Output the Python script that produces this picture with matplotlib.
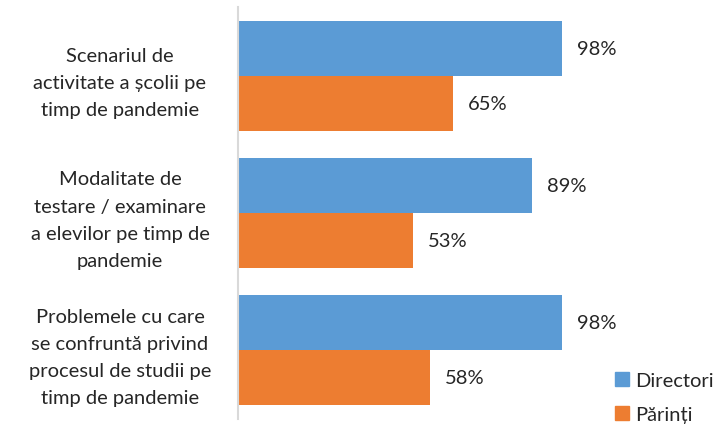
import numpy as np
import matplotlib.pyplot as plt
from matplotlib.patches import Patch

plt.rcParams['font.family'] = ['Lato', 'DejaVu Sans']

categorii = ['Scenariul de\nactivitate a școlii pe\ntimp de pandemie',
             'Modalitate de\ntestare / examinare\na elevilor pe timp de\npandemie',
             'Problemele cu care\nse confruntă privind\nprocesul de studii pe\ntimp de pandemie']
directori = [98, 89, 98]
parinti = [65, 53, 58]
serii = ['Directori', 'Părinți']
culori = ['#5B9BD5', '#ED7D31']

fs = 14.5

fig = plt.figure(figsize=(7.21, 4.27), dpi=100)
ax = fig.add_axes([238 / 721, 1 - 420 / 427, 397 / 721, 412 / 427])

y = np.arange(len(categorii))
h = 0.4
ax.barh(y - h / 2, directori, height=h, color=culori[0])
ax.barh(y + h / 2, parinti, height=h, color=culori[1])

for i in range(len(categorii)):
    ax.text(directori[i] + 4.4, y[i] - h / 2, f'{directori[i]}%',
            va='center', ha='left', fontsize=fs, color='#262626')
    ax.text(parinti[i] + 4.4, y[i] + h / 2, f'{parinti[i]}%',
            va='center', ha='left', fontsize=fs, color='#262626')

ax.set_xlim(0, 120)
ax.set_ylim(len(categorii) - 0.5, -0.5)
ax.set_xticks([])
ax.set_yticks(y)
ax.set_yticklabels(categorii, fontsize=fs, color='#262626',
                   ha='center', linespacing=1.72)
ax.tick_params(axis='y', length=0, pad=85)
for s in ['top', 'right', 'bottom']:
    ax.spines[s].set_visible(False)
ax.spines['left'].set_color('#D9D9D9')
ax.spines['left'].set_linewidth(1.5)

handles = [Patch(color=c, label=s) for c, s in zip(culori, serii)]
fig.legend(handles=handles, loc='lower left', bbox_to_anchor=(597 / 721, -0.035),
           frameon=False, fontsize=fs, handlelength=0.7, handleheight=0.7,
           handletextpad=0.3, labelspacing=0.85, labelcolor='#262626')

fig.savefig('out.png', dpi=100)
